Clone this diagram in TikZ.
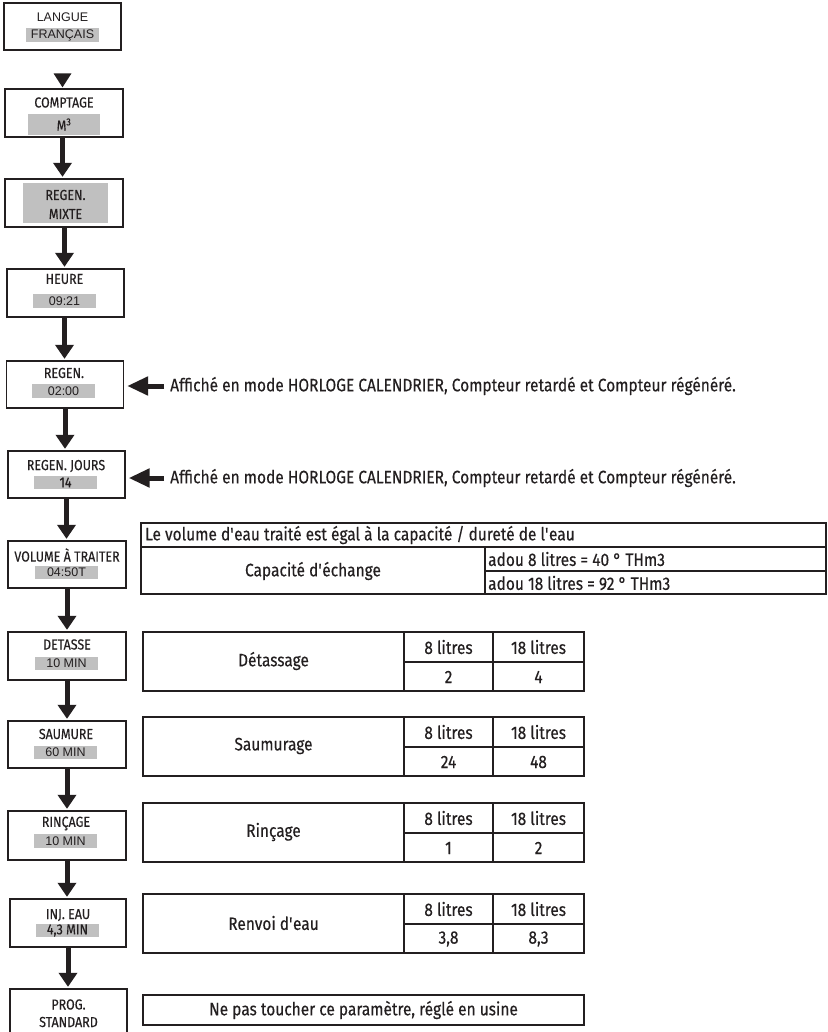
\documentclass[tikz,border=0pt]{standalone}
\usepackage{fontspec}
\setmainfont[FakeStretch=0.86,FakeBold=0.3]{Fira Sans}
\newfontfamily\arialf{Liberation Sans}
\usetikzlibrary{arrows.meta,calc}
\definecolor{ink}{RGB}{35,31,32}
\definecolor{hl}{RGB}{192,192,192}
\newcommand{\apos}{\textquotesingle}
\begin{document}
\begin{tikzpicture}[x=1pt,y=-1pt,
 pbox/.style={draw=ink,line width=1.3pt,minimum width=117pt,minimum height=48pt,inner sep=0},
 ttl/.style={font=\fontsize{14.5}{16}\selectfont,text=ink,inner sep=0},
 ttla/.style={font=\arialf\fontsize{12.5}{14}\selectfont,text=ink,inner sep=0},
 val/.style={fill=hl,text=ink,inner sep=0,minimum width=63pt,minimum height=14pt,font=\arialf\fontsize{12.5}{14}\selectfont},
 valc/.style={val,font=\fontsize{14.5}{16}\selectfont},
 flow/.style={draw=ink,line width=5pt,-{Triangle[width=18pt,length=14pt]},shorten >=1.5pt},
 flowl/.style={draw=ink,line width=5pt,-{Triangle[width=18pt,length=21pt]},shorten >=3pt},
 tb/.style={draw=ink,line width=1.2pt},
 tt/.style={font=\fontsize{18}{20}\selectfont,text=ink,inner sep=0}
]
\useasboundingbox (0,0) rectangle (827,1032);
\clip (0,0) rectangle (827,1032);
\fill[white] (0,0) rectangle (827,1032);

% left column boxes
\node[pbox,minimum width=117pt,minimum height=47pt] (b1) at (62.5,26.5) {};
\node[ttla] (b1t) at (62.5,17) {LANGUE};
\node[val,minimum width=73pt] (b1v) at (62.5,35) {FRANÇAIS};

\node[pbox,minimum width=118pt] (b2) at (64,113) {};
\node[ttl] (b2t) at (64,102.5) {COMPTAGE};
\node[valc,minimum width=72pt,minimum height=21pt] (b2v) at (64,124.5) {M\textsuperscript{3}};

\node[pbox,minimum width=118pt] (b3) at (64,203) {};
\node[fill=hl,minimum width=85pt,minimum height=40pt,inner sep=0] (b3v) at (65.5,203) {};
\node[ttl] (b3t) at (65.5,195) {REGEN.};
\node[ttl] (b3u) at (65.5,214) {MIXTE};

\node[pbox] (b4) at (65.5,293) {};
\node[ttl] (b4t) at (64.5,279) {HEURE};
\node[val] (b4v) at (64.5,301) {09:21};

\node[pbox,minimum height=47pt] (b5) at (65,384.5) {};
\node[ttl] (b5t) at (64,373) {REGEN.};
\node[val] (b5v) at (63.5,391) {02:00};

\node[pbox,minimum height=47pt] (b6) at (66.5,474.5) {};
\node[ttl] (b6t) at (66,466) {REGEN. JOURS};
\node[valc,minimum height=13pt] (b6v) at (65.5,482.5) {14};

\node[pbox,minimum width=118pt,minimum height=47pt] (b7) at (67,564.5) {};
\node[ttl] (b7t) at (67,555) {VOLUME À TRAITER};
\node[val,minimum height=13pt] (b7v) at (66.5,572.5) {04:50T};

\node[pbox,minimum width=118pt] (b8) at (67,656) {};
\node[ttl] (b8t) at (67,644.5) {DETASSE};
\node[val,minimum height=13pt] (b8v) at (66.5,663.5) {10 MIN};

\node[pbox,minimum width=118pt,minimum height=47pt] (b9) at (67,744.5) {};
\node[ttl] (b9t) at (66,734) {SAUMURE};
\node[val,minimum height=13pt] (b9v) at (65.5,752.5) {60 MIN};

\node[pbox,minimum width=118pt,minimum height=49pt] (b10) at (67,835.5) {};
\node[ttl] (b10t) at (66,823.5) {RINÇAGE};
\node[val] (b10v) at (65.5,841) {10 MIN};

\node[pbox,minimum width=116pt] (b11) at (68,923) {};
\node[ttl] (b11t) at (68,915) {INJ. EAU};
\node[valc,minimum height=13pt] (b11v) at (67.5,930.5) {4,3 MIN};

\node[pbox,minimum width=117pt] (b12) at (68.5,1013) {};
\node[ttl] (b12t) at (68.5,1004.5) {PROG.};
\node[ttl] (b12u) at (68.5,1022) {STANDARD};

% connectors
\fill[ink] ($(b2.north)+(-1.5,-1)$) -- ++(-9,-14) -- ++(18,0) -- cycle;
\draw[flow] (b2.south) ++(-1.5,0) coordinate (a2) -- (a2 |- b3.north);
\draw[flow] (b3.south) ++(0.5,0) coordinate (a3) -- (a3 |- b4.north);
\draw[flow] (b4.south) ++(-1,0) coordinate (a4) -- (a4 |- b5.north);
\draw[flow] (b5.south) ++(0,0) coordinate (a5) -- (a5 |- b6.north);
\draw[flow] (b6.south) ++(0,0) coordinate (a6) -- (a6 |- b7.north);
\draw[flow] (b7.south) ++(0,0) coordinate (a7) -- (a7 |- b8.north);
\draw[flow] (b8.south) ++(0,0) coordinate (a8) -- (a8 |- b9.north);
\draw[flow] (b9.south) ++(0,0) coordinate (a9) -- (a9 |- b10.north);
\draw[flow] (b10.south) ++(0,0) coordinate (a10) -- (a10 |- b11.north);
\draw[flow] (b11.south) ++(0,0) coordinate (a11) -- (a11 |- b12.north);

% side notes
\node[tt,anchor=west] (n1) at (170,386) {Affiché en mode HORLOGE CALENDRIER, Compteur retardé et Compteur régénéré.};
\node[tt,anchor=west] (n2) at (170,478) {Affiché en mode HORLOGE CALENDRIER, Compteur retardé et Compteur régénéré.};
\draw[flowl] ($(n1.west)+(-6,0)$) -- (n1.west -| b5.east);
\draw[flowl] ($(n2.west)+(-6,0)$) -- (n2.west -| b6.east);

% table 1
\draw[tb] (141,523) rectangle (826,594);
\draw[tb] (141,547) -- (826,547);
\draw[tb] (485,547) -- (485,594);
\draw[tb] (485,571) -- (826,571);
\node[tt,anchor=west] (t1a) at (145,535) {Le volume d\apos eau traité est égal à la capacité / dureté de l\apos eau};
\node[tt] (t1b) at (313,571) {Capacité d\apos échange};
\node[tt,anchor=west] (t1c) at (488,559) {adou 8 litres = 40 ° THm3};
\node[tt,anchor=west] (t1d) at (488,583) {adou 18 litres = 92 ° THm3};

% tables 2-5
\foreach \ty/\lab/\va/\vb/\nm in {632/{Détassage}/{2}/{4}/t2, 717/{Saumurage}/{24}/{48}/t3, 803/{Rinçage}/{1}/{2}/t4, 894/{Renvoi d\apos eau}/{3,8}/{8,3}/t5}{
  \draw[tb] (143,\ty) rectangle (584,\ty+59);
  \draw[tb] (404,\ty) -- (404,\ty+59);
  \draw[tb] (493,\ty) -- (493,\ty+59);
  \draw[tb] (404,\ty+30) -- (584,\ty+30);
  \node[tt] (\nm l) at (273.5,\ty+29) {\lab};
  \node[tt] (\nm a) at (448.5,\ty+15) {8 litres};
  \node[tt] (\nm b) at (538.5,\ty+15) {18 litres};
  \node[tt] (\nm c) at (448.5,\ty+45) {\va};
  \node[tt] (\nm d) at (538.5,\ty+45) {\vb};
}

% final note
\draw[tb] (143,995) rectangle (584,1025);
\node[tt] (t6) at (363.5,1010) {Ne pas toucher ce paramètre, réglé en usine};
\end{tikzpicture}
\end{document}
